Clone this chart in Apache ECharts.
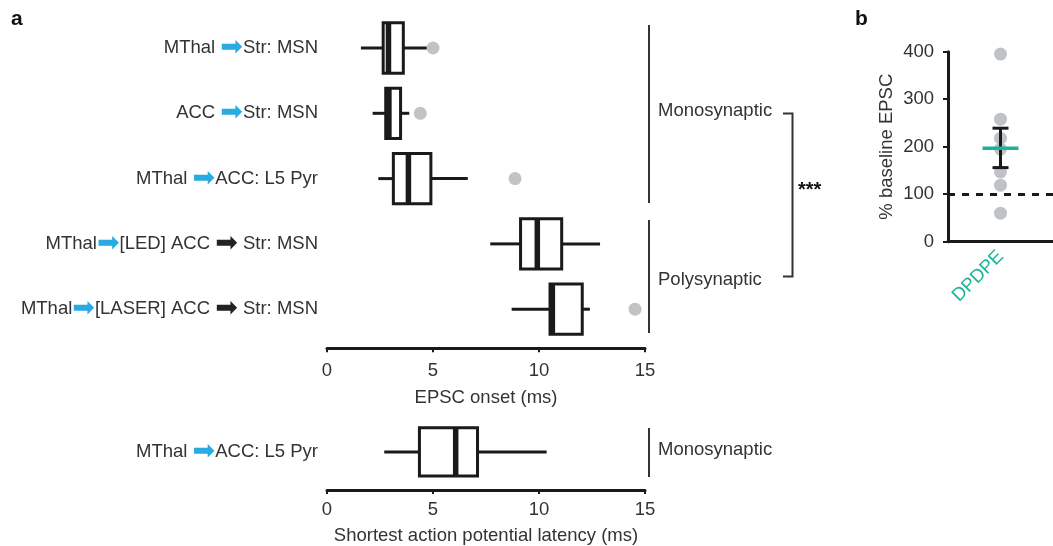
<!DOCTYPE html>
<html>
<head>
<meta charset="utf-8">
<script src="https://cdn.jsdelivr.net/npm/echarts@6/dist/echarts.min.js"></script>
<style>
  html, body { margin: 0; padding: 0; background: #fff; }
  #main { width: 1053px; height: 546px; }
</style>
</head>
<body>
<div id="main"></div>
<script>
// panel a, EPSC onset (ms)
var categories = [
    'MThal →Str: MSN',
    'ACC →Str: MSN',
    'MThal →ACC: L5 Pyr',
    'MThal→[LED] ACC → Str: MSN',
    'MThal→[LASER] ACC → Str: MSN'
];
var whiskerLow  = [1.6, 2.15, 2.42, 7.7, 8.71];
var q1          = [2.65, 2.77, 3.13, 9.13, 10.52];
var medians     = [2.9, 2.92, 3.84, 9.92, 10.63];
var q3          = [3.6, 3.47, 4.9, 11.07, 12.04];
var whiskerHigh = [4.85, 3.88, 6.64, 12.88, 12.4];
var outliers    = [[0, 5.0], [1, 4.4], [2, 8.87], [4, 14.53]];

// panel a, shortest action potential latency (ms)
var latCategories = ['MThal →ACC: L5 Pyr'];
var latBox = [2.7, 4.36, 6.07, 7.1, 10.36];

var onsetTicks = [0, 5, 10, 15];

// panel b
var bCategories = ['DPDPE'];
var bPoints = [395, 258, 218, 195, 147, 119, 60];
var bMean = 197;
var bErrLow = 156;
var bErrHigh = 239;

var blue = '#29abe2';
var teal = '#1db39a';
var ink = '#1a1a1a';
var txt = '#333';

var chart = echarts.init(document.getElementById('main'));

function rowLabel(value) {
    var parts = value.split('→');
    var s = '{t|' + parts[0] + '}{a|➡}{t|' + parts[1] + '}';
    if (parts.length > 2) {
        s += '{k|➡}{t|' + parts[2] + '}';
    }
    return s;
}

var richLabel = {
    t: { fontSize: 18.5, color: txt, fontFamily: 'Liberation Sans' },
    a: { fontSize: 27, color: blue, fontFamily: 'DejaVu Sans', lineHeight: 22 },
    k: { fontSize: 27, color: '#222', fontFamily: 'DejaVu Sans', lineHeight: 22 }
};

function boxItem(params, api) {
    var cat = api.value(0);
    var p = [1, 2, 3, 4, 5].map(function (i) { return api.coord([api.value(i), cat]); });
    var h = api.size([0, 1])[1] * 0.77;
    var y = p[0][1];
    var st = { stroke: ink, lineWidth: 3 };
    return {
        type: 'group',
        children: [
            { type: 'line', shape: { x1: p[0][0], y1: y, x2: p[1][0], y2: y }, style: st },
            { type: 'line', shape: { x1: p[3][0], y1: y, x2: p[4][0], y2: y }, style: st },
            { type: 'rect', shape: { x: p[1][0], y: y - h / 2, width: p[3][0] - p[1][0], height: h },
              style: { fill: '#fff', stroke: ink, lineWidth: 3 } },
            { type: 'rect', shape: { x: p[2][0] - 2.75, y: y - h / 2, width: 5.5, height: h },
              style: { fill: ink } }
        ]
    };
}

function errItem(params, api) {
    var lo = api.coord([api.value(0), api.value(1)]);
    var hi = api.coord([api.value(0), api.value(2)]);
    var st = { stroke: ink, lineWidth: 3 };
    return {
        type: 'group',
        children: [
            { type: 'line', shape: { x1: lo[0], y1: lo[1], x2: hi[0], y2: hi[1] }, style: st },
            { type: 'line', shape: { x1: lo[0] - 8, y1: lo[1], x2: lo[0] + 8, y2: lo[1] }, style: st },
            { type: 'line', shape: { x1: hi[0] - 8, y1: hi[1], x2: hi[0] + 8, y2: hi[1] }, style: st }
        ]
    };
}

var boxData = categories.map(function (c, i) {
    return [i, whiskerLow[i], q1[i], medians[i], q3[i], whiskerHigh[i]];
});

var xAxisCommon = {
    type: 'value',
    min: onsetTicks[0],
    max: onsetTicks[onsetTicks.length - 1],
    interval: 5,
    nameLocation: 'middle',
    nameTextStyle: { fontSize: 18.5, color: txt },
    axisLine: { show: true, lineStyle: { color: ink, width: 3 } },
    axisTick: { show: true, length: 4, lineStyle: { color: ink, width: 2 } },
    splitLine: { show: false }
};

var option = {
    animation: false,
    backgroundColor: '#fff',
    textStyle: { fontFamily: 'Liberation Sans, Arial, sans-serif' },
    grid: [
        { left: 327, width: 318, top: 15.35, height: 326.5 },
        { left: 327, width: 318, top: 420.65, height: 65.3 },
        { left: 948, right: 0, top: 51.7, height: 190 }
    ],
    xAxis: [
        Object.assign({}, xAxisCommon, {
            gridIndex: 0, offset: 6.4, name: 'EPSC onset (ms)', nameGap: 40,
            axisLabel: { fontSize: 18.5, color: txt, margin: 13 }
        }),
        Object.assign({}, xAxisCommon, {
            gridIndex: 1, offset: 6.7, name: 'Shortest action potential latency (ms)', nameGap: 36,
            axisLabel: { fontSize: 18.5, color: txt, margin: 10 }
        }),
        {
            type: 'category', gridIndex: 2, data: bCategories,
            axisLine: { lineStyle: { color: ink, width: 3 } },
            axisTick: { show: false },
            axisLabel: { rotate: 45, fontSize: 18.5, color: teal, margin: 12 }
        }
    ],
    yAxis: [
        {
            type: 'category', gridIndex: 0, data: categories, inverse: true,
            axisLine: { show: false }, axisTick: { show: false },
            axisLabel: { formatter: rowLabel, rich: richLabel, margin: 9 }
        },
        {
            type: 'category', gridIndex: 1, data: latCategories, inverse: true,
            axisLine: { show: false }, axisTick: { show: false },
            axisLabel: { formatter: rowLabel, rich: richLabel, margin: 9 }
        },
        {
            type: 'value', gridIndex: 2, min: 0, max: 400, interval: 100,
            name: '% baseline EPSC', nameLocation: 'middle', nameGap: 52,
            nameTextStyle: { fontSize: 18.5, color: txt },
            axisLine: { show: true, lineStyle: { color: ink, width: 3 } },
            axisTick: { show: true, length: 5, lineStyle: { color: ink, width: 2 } },
            axisLabel: { fontSize: 18.5, color: txt, margin: 14 },
            splitLine: { show: false }
        }
    ],
    series: [
        {
            type: 'custom', xAxisIndex: 0, yAxisIndex: 0,
            renderItem: boxItem, data: boxData,
            encode: { x: [1, 2, 3, 4, 5], y: 0 }
        },
        {
            type: 'scatter', xAxisIndex: 0, yAxisIndex: 0,
            symbolSize: 13, itemStyle: { color: '#c3c3c3', opacity: 1 },
            data: outliers.map(function (o) { return [o[1], o[0]]; })
        },
        {
            type: 'custom', xAxisIndex: 1, yAxisIndex: 1,
            renderItem: boxItem, data: [[0].concat(latBox)],
            encode: { x: [1, 2, 3, 4, 5], y: 0 }
        },
        {
            type: 'scatter', xAxisIndex: 2, yAxisIndex: 2,
            symbolSize: 13, itemStyle: { color: '#bfc3c8', opacity: 1 },
            data: bPoints.map(function (v) { return [0, v]; }),
            markLine: {
                silent: true, symbol: 'none', label: { show: false },
                lineStyle: { color: ink, width: 3, type: [7, 7] },
                data: [{ yAxis: 100 }]
            }
        },
        {
            type: 'custom', xAxisIndex: 2, yAxisIndex: 2,
            renderItem: errItem, data: [[0, bErrLow, bErrHigh]],
            encode: { x: 0, y: [1, 2] }, z: 3
        },
        {
            type: 'scatter', xAxisIndex: 2, yAxisIndex: 2, z: 4,
            symbol: 'rect', symbolSize: [36, 3.5],
            itemStyle: { color: teal, opacity: 1 },
            data: [[0, bMean]]
        }
    ],
    graphic: [
        { type: 'text', left: 11, top: 9, style: { text: 'a', fontSize: 21, fontWeight: 'bold', fill: '#111' } },
        { type: 'text', left: 855, top: 9, style: { text: 'b', fontSize: 21, fontWeight: 'bold', fill: '#111' } },
        { type: 'line', shape: { x1: 649, y1: 25, x2: 649, y2: 203 }, style: { stroke: '#333', lineWidth: 2 } },
        { type: 'line', shape: { x1: 649, y1: 220, x2: 649, y2: 333 }, style: { stroke: '#333', lineWidth: 2 } },
        { type: 'line', shape: { x1: 649, y1: 428, x2: 649, y2: 477 }, style: { stroke: '#333', lineWidth: 2 } },
        { type: 'text', x: 658, y: 111, style: { text: 'Monosynaptic', fontSize: 18.5, fill: txt, verticalAlign: 'middle' } },
        { type: 'text', x: 658, y: 280, style: { text: 'Polysynaptic', fontSize: 18.5, fill: txt, verticalAlign: 'middle' } },
        { type: 'text', x: 658, y: 450, style: { text: 'Monosynaptic', fontSize: 18.5, fill: txt, verticalAlign: 'middle' } },
        { type: 'polyline', shape: { points: [[783, 113.5], [792.5, 113.5], [792.5, 276.5], [783, 276.5]] },
          style: { stroke: '#333', lineWidth: 2, fill: null } },
        { type: 'text', x: 798, y: 190, style: { text: '***', fontSize: 20, fontWeight: 'bold', fill: '#111', verticalAlign: 'middle' } }
    ]
};

chart.setOption(option);
</script>
</body>
</html>
